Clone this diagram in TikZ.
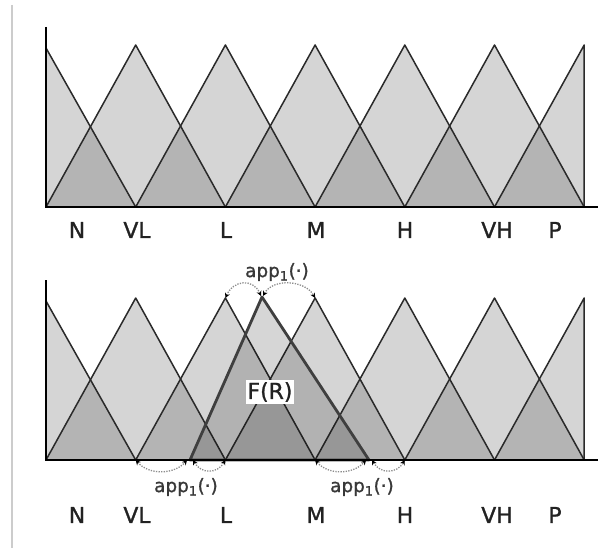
\documentclass[tikz,border=0pt]{standalone}
\usepackage{fontspec}
\setmainfont{DejaVu Sans}
\newfontfamily\lblfont[FakeBold=1.2]{DejaVu Sans}
\usetikzlibrary{arrows.meta,calc}
\definecolor{lightfill}{HTML}{D5D5D5}
\definecolor{darkfill}{HTML}{B4B4B4}
\definecolor{edgecol}{HTML}{2A2A2A}
\definecolor{labcol}{HTML}{222222}
\definecolor{dotcol}{HTML}{8C8C8C}

\newcommand{\mfchart}[2]{%
\begin{scope}[shift={(0,#2)}]
  \coordinate (#1o) at (46,207);
  \coordinate (#1yt) at (46,27);
  \coordinate (#1xe) at (598,207);
  \coordinate (#1n) at (46,48);
  \foreach \i in {0,...,6}{
    \coordinate (#1p\i) at ({46+89.7*\i},45);
    \coordinate (#1f\i) at ({46+89.7*\i},207);
  }
  % light triangles
  \fill[lightfill] (#1f0) -- (#1n) -- (#1f1) -- cycle;
  \foreach \i [evaluate=\i as \a using int(\i-1), evaluate=\i as \b using int(\i+1)] in {1,...,5}{
    \fill[lightfill] (#1f\a) -- (#1p\i) -- (#1f\b) -- cycle;
  }
  \fill[lightfill] (#1f5) -- (#1p6) -- (#1f6) -- cycle;
  % overlaps
  \foreach \i in {0,...,5}{
    \pgfmathsetmacro\xa{46+89.7*\i}
    \pgfmathsetmacro\xb{\xa+89.7}
    \pgfmathsetmacro\xm{\xa+44.85}
    \fill[darkfill] (\xa,207) -- (\xm,126.5) -- (\xb,207) -- cycle;
  }
  % outlines
  \draw[mf] (#1n) -- (#1f1);
  \foreach \i [evaluate=\i as \a using int(\i-1), evaluate=\i as \b using int(\i+1)] in {1,...,5}{
    \draw[mf] (#1f\a) -- (#1p\i) -- (#1f\b);
  }
  \draw[mf] (#1f5) -- (#1p6) -- (#1f6);
\end{scope}}

\begin{document}
\begin{tikzpicture}[x=1bp,y=-1bp,
  mf/.style={draw=edgecol, line width=1.5bp, line join=round},
  axisline/.style={draw=black, line width=2.6bp},
  lbl/.style={font=\lblfont\fontsize{22}{25}\selectfont, text=labcol, inner sep=0pt},
  applbl/.style={font=\lblfont\fontsize{18.5}{21}\selectfont, text=labcol!90, inner sep=0pt},
  apparr/.style={draw=dotcol, line width=1.3bp, dash pattern=on 1.3bp off 1.3bp,
    {Stealth[length=5bp,width=5bp,black]}-{Stealth[length=5bp,width=5bp,black]}},
  frtri/.style={draw=edgecol!90, line width=2.8bp, line join=round, fill=black, fill opacity=0.16},
  frbox/.style={fill=white, font=\lblfont\fontsize{22}{25}\selectfont, text=labcol, inner sep=2bp},
]
\useasboundingbox (0,0) rectangle (598,548);
\draw[black!20, line width=2bp] (12,5) -- (12,548);

\mfchart{t}{0}
\mfchart{b}{253}

% F(R) triangle
\coordinate (frl) at (190,460);
\coordinate (frp) at (262,297);
\coordinate (frr) at (369,460);
\filldraw[frtri] (frl) -- (frp) -- (frr) -- cycle;

% axes
\draw[axisline] (tyt) -- (to) -- (txe);
\draw[axisline] (byt) -- (bo) -- (bxe);

\node[frbox] (fr) at (270,392) {F(R)};

% labels
\foreach \nm/\xx/\tx in {N/77/N, VL/137/VL, L/226/L, M/316/M, H/405/H, VH/497/VH, P/555/P}{
  \node[lbl] (t\nm) at (\xx,230) {\tx};
  \node[lbl] (b\nm) at (\xx,515) {\tx};
}

% app arrows
\coordinate (frlA) at (187,460);
\coordinate (frlB) at (193,460);
\coordinate (frrA) at (366,460);
\coordinate (frrB) at (372,460);
\coordinate (frpA) at (261,296);
\coordinate (frpB) at (263,296);

\draw[apparr] (bp2) .. controls +(8,-18) and +(-8,-18) .. (frpA);
\draw[apparr] (frpB) .. controls +(10,-18) and +(-10,-18) .. (bp3);
\draw[apparr] (bf1) .. controls +(14,16) and +(-12,14) .. (frlA);
\draw[apparr] (frlB) .. controls +(8,14) and +(-8,14) .. (bf2);
\draw[apparr] (bf3) .. controls +(14,16) and +(-12,14) .. (frrA);
\draw[apparr] (frrB) .. controls +(8,14) and +(-8,14) .. (bf4);

\node[applbl] (appT) at (277,272) {app\textsubscript{1}(·)};
\node[applbl] (appL) at (186,487) {app\textsubscript{1}(·)};
\node[applbl] (appR) at (362,487) {app\textsubscript{1}(·)};
\end{tikzpicture}
\end{document}
